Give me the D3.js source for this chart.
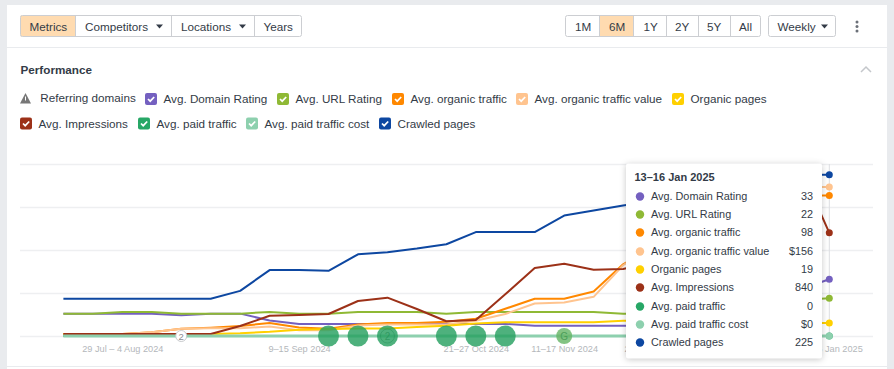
<!DOCTYPE html>
<html>
<head>
<meta charset="utf-8">
<script src="https://cdn.jsdelivr.net/npm/d3@7"></script>
<style>
  html, body { margin: 0; padding: 0; background: #e9ebee; overflow: hidden; }
  svg { display: block; font-family: "Liberation Sans", Arial, sans-serif; }
  .grid line { stroke: #eeeff1; stroke-width: 1.5; }
  .grid path, .xaxis path, .xaxis line { display: none; }
  .xaxis text { fill: #b4b7bb; font-size: 9.2px; font-family: "Liberation Sans", Arial, sans-serif; }
</style>
</head>
<body>
<div id="chart"></div>
<script>
// weeks, start day of each one
var weeks = ['15 Jul', '22 Jul', '29 Jul', '5 Aug', '12 Aug', '19 Aug', '26 Aug', '2 Sep', '9 Sep', '16 Sep',
  '23 Sep', '30 Sep', '7 Oct', '14 Oct', '21 Oct', '28 Oct', '4 Nov', '11 Nov', '18 Nov', '25 Nov',
  '2 Dec', '9 Dec', '16 Dec', '23 Dec', '30 Dec', '6 Jan', '13 Jan']
var tickWeeks = ['29 Jul', '9 Sep', '21 Oct', '11 Nov', '2 Dec', '13 Jan']
var tickLabels = ['29 Jul – 4 Aug 2024', '9–15 Sep 2024', '21–27 Oct 2024', '11–17 Nov 2024', '2–8 Dec 2024', '13–16 Jan 2025']

// the part behind the tooltip is a guess
var domainRating = [13, 13, 13, 13, 12, 13, 13, 9, 7, 7, 7, 7, 7, 7, 7, 7, 6, 6, 6, 6, 6, 6, 7, 10, 18, 27, 33]
var urlRating = [13, 13, 14, 14, 13, 13, 13, 14, 13, 13, 14, 14, 14, 13, 14, 14, 14, 14, 14, 13, 13, 13, 14, 16, 18, 21, 22]
var organicTraffic = [1.4, 1.4, 1.4, 2.6, 5, 5.8, 7, 9, 6, 5, 8, 9, 9, 10, 12, 19, 26, 26, 31, 50, 62, 70, 78, 85, 92, 98, 98]
var trafficValue = [2, 2, 2, 3.9, 7.6, 8, 8, 10, 6, 6, 11, 12, 12, 12, 16, 23, 34, 35, 41, 74, 95, 110, 125, 138, 150, 156, 156]
var organicPages = [3, 3, 3, 3, 3, 3, 4, 6, 9, 10, 11, 11, 13, 15, 18, 20, 20, 20, 20, 22, 22, 22, 21, 20, 20, 19, 19]
var impressions = [16, 16, 16, 16, 16, 16, 81, 165, 171, 179, 285, 312, 220, 120, 130, 339, 553, 588, 539, 545, 600, 700, 850, 1000, 1200, 1380, 840]
var paidTraffic = [0, 0, 0, 0, 0, 0, 0, 0, 0, 0, 0, 0, 0, 0, 0, 0, 0, 0, 0, 0, 0, 0, 0, 0, 0, 0, 0]
var paidCost = [0, 0, 0, 0, 0, 0, 0, 0, 0, 0, 0, 0, 0, 0, 0, 0, 0, 0, 0, 0, 0, 0, 0, 0, 0, 0, 0]
var crawledPages = [52, 52, 52, 52, 52, 52, 63, 92, 92, 91, 114, 117, 122, 128, 145, 145, 145, 168, 175, 182, 188, 195, 205, 215, 222, 225, 225]

var seriesNames = ['Avg. Domain Rating', 'Avg. URL Rating', 'Avg. organic traffic', 'Avg. organic traffic value', 'Organic pages', 'Avg. Impressions', 'Avg. paid traffic', 'Avg. paid traffic cost', 'Crawled pages']
var seriesValues = [domainRating, urlRating, organicTraffic, trafficValue, organicPages, impressions, paidTraffic, paidCost, crawledPages]
var seriesTops = [100, 100, 120, 180, 250, 1400, 100, 100, 240]
var seriesColors = ['#7460c0', '#8fb935', '#ff8800', '#ffc48f', '#ffd000', '#9c3118', '#27a766', '#8dd0ae', '#0d47a1']
var tooltipTitle = '13–16 Jan 2025'
var tooltipValues = ['33', '22', '98', '$156', '19', '840', '0', '$0', '225']

var annotationWeeks = ['16 Sep', '23 Sep', '30 Sep', '14 Oct', '21 Oct', '28 Oct']

var width = 894
var height = 369
var plotLeft = 63.4
var plotRight = 829.3
var plotTop = 164
var plotBottom = 336
var textSize = 11.7

var svg = d3.select('#chart').append('svg').attr('width', width).attr('height', height)

svg.append('rect').attr('x', 7).attr('y', 5).attr('width', 880).attr('height', 364).attr('fill', '#fff')
svg.append('line').attr('x1', 7).attr('x2', 887).attr('y1', 47.5).attr('y2', 47.5).attr('stroke', '#e9ebee')
svg.append('line').attr('x1', 7).attr('x2', 887).attr('y1', 366.5).attr('y2', 366.5).attr('stroke', '#e9ebee')

// button groups in the header
function buttonGroup (items) {
  var left = items[0].x0
  var right = items[items.length - 1].x1
  var g = svg.append('g')
  items.forEach(function (d) {
    if (d.active) {
      g.append('rect').attr('x', d.x0).attr('y', 15.5).attr('width', d.x1 - d.x0).attr('height', 21).attr('fill', '#ffdbb0')
    }
    g.append('text').attr('x', d.tx).attr('y', 31).attr('font-size', textSize).attr('fill', '#333b47').text(d.label)
    if (d.caret) {
      g.append('path').attr('d', 'M' + d.caret + ',24.5h7l-3.5,4z').attr('fill', '#333b47')
    }
  })
  items.slice(1).forEach(function (d) {
    g.append('line').attr('x1', d.x0).attr('x2', d.x0).attr('y1', 15.5).attr('y2', 36.5).attr('stroke', '#ccced2')
  })
  g.append('rect').attr('x', left).attr('y', 15.5).attr('rx', 2).attr('width', right - left).attr('height', 21)
    .attr('fill', 'none').attr('stroke', '#ccced2')
}

buttonGroup([
  { label: 'Metrics', x0: 20.5, x1: 75.5, tx: 29.5, active: true },
  { label: 'Competitors', x0: 75.5, x1: 171.5, tx: 85, caret: 156 },
  { label: 'Locations', x0: 171.5, x1: 254.5, tx: 181, caret: 239 },
  { label: 'Years', x0: 254.5, x1: 301.5, tx: 263.5 }
])
buttonGroup([
  { label: '1M', x0: 565.5, x1: 599.5, tx: 575 },
  { label: '6M', x0: 599.5, x1: 633.5, tx: 609 },
  { label: '1Y', x0: 633.5, x1: 666.5, tx: 643.5 },
  { label: '2Y', x0: 666.5, x1: 698.5, tx: 675 },
  { label: '5Y', x0: 698.5, x1: 730.5, tx: 707 },
  { label: 'All', x0: 730.5, x1: 760.5, tx: 739 }
].map(function (d) { d.active = d.label === '6M'; return d }))
buttonGroup([{ label: 'Weekly', x0: 768.5, x1: 835.5, tx: 777.5, caret: 821 }])
svg.selectAll('.menu-dot').data([22, 26.5, 31]).enter().append('circle').attr('class', 'menu-dot')
  .attr('cx', 857).attr('cy', function (d) { return d }).attr('r', 1.5).attr('fill', '#6b7078')

svg.append('text').attr('x', 20.5).attr('y', 74).attr('font-size', textSize).attr('font-weight', 700)
  .attr('fill', '#333b47').text('Performance')
svg.append('path').attr('d', 'M861,72l5,-5l5,5').attr('fill', 'none').attr('stroke', '#c4c7cb').attr('stroke-width', 1.5)

// legend
svg.append('path').attr('d', 'M25.5,93l5.5,10.5h-11z').attr('fill', '#777')
svg.append('rect').attr('x', 25).attr('y', 96.5).attr('width', 1).attr('height', 4).attr('fill', '#fff')
svg.append('text').attr('x', 40.3).attr('y', 102).attr('font-size', textSize).attr('fill', '#333b47').text('Referring domains')

var legendX = [145, 277, 392, 516, 672, 20, 138, 246, 379]
var legendRow = [0, 0, 0, 0, 0, 1, 1, 1, 1]
var legend = svg.selectAll('.legend').data(seriesNames).enter().append('g').attr('class', 'legend')
  .attr('transform', function (d, i) { return 'translate(' + legendX[i] + ',' + (93 + legendRow[i] * 24.5) + ')' })
legend.append('rect').attr('width', 12).attr('height', 12).attr('rx', 2)
  .attr('fill', function (d, i) { return seriesColors[i] })
legend.append('path').attr('d', 'M3,6l2.2,2.2l4,-4.2').attr('fill', 'none').attr('stroke', '#fff').attr('stroke-width', 1.7)
legend.append('text').attr('x', 18.5).attr('y', 10).attr('font-size', textSize).attr('fill', '#333b47')
  .text(function (d) { return d })

// scales, one y per metric because every metric has its own range
var x = d3.scalePoint().domain(weeks).range([plotLeft, plotRight])
var gridY = d3.scaleLinear().domain([0, 100]).range([plotBottom, plotTop])
var yScales = seriesTops.map(function (top) {
  return d3.scaleLinear().domain([0, top]).range([plotBottom, plotTop])
})

svg.append('g').attr('class', 'grid').attr('transform', 'translate(20,0)')
  .call(d3.axisLeft(gridY).tickValues([0, 25, 50, 75, 100]).tickSize(-853).tickFormat(''))

svg.append('g').attr('class', 'xaxis').attr('transform', 'translate(0,' + plotBottom + ')')
  .call(d3.axisBottom(x).tickValues(tickWeeks).tickSize(0).tickPadding(9)
    .tickFormat(function (d, i) { return tickLabels[i] }))

svg.append('line').attr('x1', plotRight).attr('x2', plotRight).attr('y1', plotTop).attr('y2', plotBottom)
  .attr('stroke', '#dcdee1')

seriesValues.forEach(function (values, s) {
  var line = d3.line()
    .x(function (d, i) { return x(weeks[i]) })
    .y(function (d) { return yScales[s](d) })
  svg.append('path').datum(values).attr('d', line).attr('fill', 'none')
    .attr('stroke', seriesColors[s]).attr('stroke-width', s === 7 ? 3 : 2).attr('stroke-linejoin', 'round')
  svg.append('circle').attr('cx', x(weeks[26])).attr('cy', yScales[s](values[26])).attr('r', 3.5)
    .attr('fill', seriesColors[s])
})

// annotations sitting on the zero line
svg.selectAll('.mark').data(annotationWeeks).enter().append('circle').attr('class', 'mark')
  .attr('cx', function (d) { return x(d) }).attr('cy', plotBottom).attr('r', 10.5)
  .attr('fill', '#27a060').attr('fill-opacity', 0.82)
svg.append('circle').attr('cx', x('30 Sep')).attr('cy', plotBottom).attr('r', 7)
  .attr('fill', 'none').attr('stroke', '#1f8a52').attr('stroke-opacity', 0.4)
svg.append('text').attr('x', x('30 Sep')).attr('y', plotBottom + 3.5).attr('text-anchor', 'middle')
  .attr('font-size', 10).attr('fill', '#1f8a52').attr('fill-opacity', 0.6).text('2')

svg.append('circle').attr('cx', x('11 Nov')).attr('cy', plotBottom).attr('r', 8)
  .attr('fill', '#64b464').attr('fill-opacity', 0.8)
svg.append('text').attr('x', x('11 Nov')).attr('y', plotBottom + 3.5).attr('text-anchor', 'middle')
  .attr('font-size', 10).attr('fill', '#4c9e5a').text('G')

svg.append('circle').attr('cx', x('12 Aug')).attr('cy', plotBottom).attr('r', 5.5)
  .attr('fill', '#fff').attr('stroke', '#c8cacd')
svg.append('text').attr('x', x('12 Aug')).attr('y', plotBottom + 3.5).attr('text-anchor', 'middle')
  .attr('font-size', 9.5).attr('fill', '#8a8d92').text('2')

// tooltip
var rowY = [196, 214, 232, 251, 269, 287, 306, 324, 342]
var tip = svg.append('g')
tip.append('rect').attr('x', 626).attr('y', 163.5).attr('width', 196).attr('height', 195).attr('rx', 2)
  .attr('fill', '#fff').style('filter', 'drop-shadow(0 1px 3px rgba(0,0,0,0.22))')
tip.append('text').attr('x', 634.5).attr('y', 181).attr('font-size', 11).attr('font-weight', 700)
  .attr('fill', '#333b47').text(tooltipTitle)
var rows = tip.selectAll('.row').data(seriesNames).enter().append('g').attr('class', 'row')
  .attr('transform', function (d, i) { return 'translate(0,' + rowY[i] + ')' })
rows.append('circle').attr('cx', 640).attr('cy', 0.5).attr('r', 4.2)
  .attr('fill', function (d, i) { return seriesColors[i] })
rows.append('text').attr('x', 651).attr('y', 4).attr('font-size', 10.85).attr('fill', '#333b47')
  .text(function (d) { return d })
rows.append('text').attr('x', 813).attr('y', 4).attr('text-anchor', 'end').attr('font-size', 10.85).attr('fill', '#333b47')
  .text(function (d, i) { return tooltipValues[i] })
</script>
</body>
</html>
